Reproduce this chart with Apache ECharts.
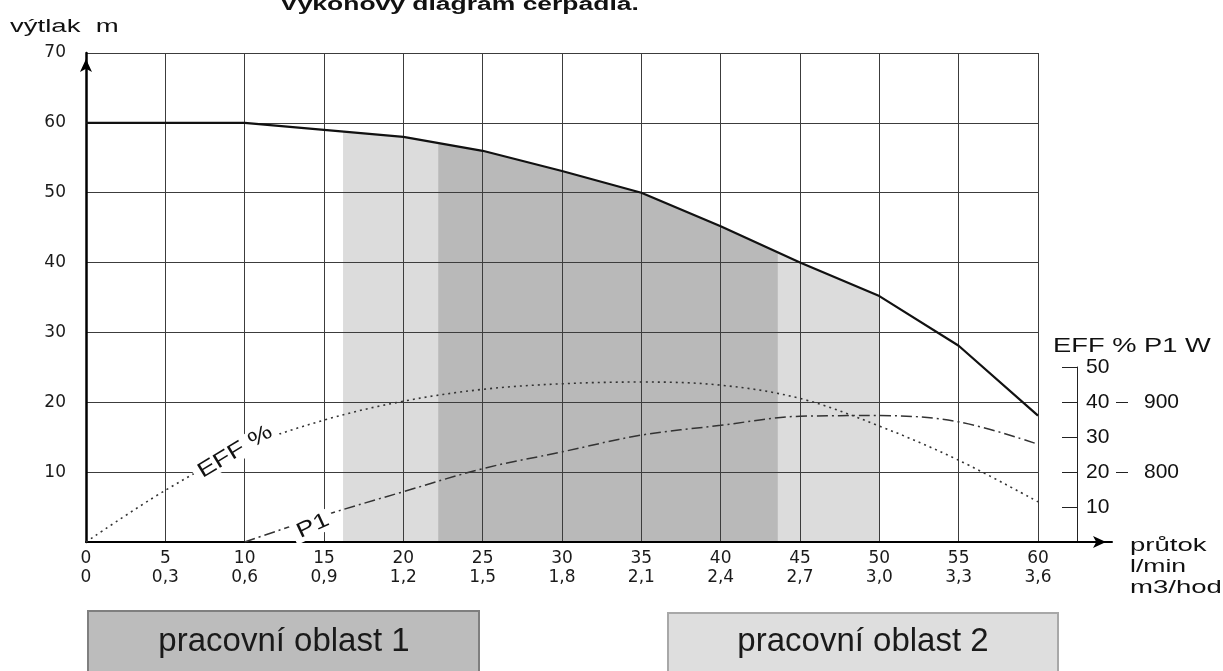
<!DOCTYPE html>
<html>
<head>
<meta charset="utf-8">
<script src="https://cdn.jsdelivr.net/npm/echarts@6/dist/echarts.min.js"></script>
<style>html,body{margin:0;padding:0;background:#fff}#c{width:1223px;height:671px}</style>
</head>
<body>
<div id="c"></div>
<script>
// ---- data ----
const flowLmin = [0, 5, 10, 15, 20, 25, 30, 35, 40, 45, 50, 55, 60];
const flowM3h = ['0', '0,3', '0,6', '0,9', '1,2', '1,5', '1,8', '2,1', '2,4', '2,7', '3,0', '3,3', '3,6'];
const headM = [60, 60, 60, 59, 58, 56, 53.1, 50, 45.2, 40, 35.2, 28.1, 18.1];
const effPct = [0, 14.8, 27, 34.9, 40.3, 43.7, 45.3, 45.8, 44.9, 41.1, 33.2, 23.4, 11.5];
const p1Flow = [10, 15, 20, 25, 30, 35, 40, 45, 50, 55, 60];
const p1W = [700, 738, 772, 805, 829, 853, 867, 880, 881, 872, 840];
const zone1Flow = [22.2, 25, 30, 35, 40, 43.6];
const zone1Head = [57.1, 56, 53.1, 50, 45.2, 41.5];
const zone2Flow = [16.2, 20, 25, 30, 35, 40, 45, 50];
const zone2Head = [58.8, 58, 56, 53.1, 50, 45.2, 40, 35.2];
const headTicks = [10, 20, 30, 40, 50, 60, 70];
const effTicks = [10, 20, 30, 40, 50];
const p1Ticks = [800, 900];
const zoneNames = ['pracovní oblast 1', 'pracovní oblast 2'];

const pair = (xs, ys) => xs.map((x, i) => [x, ys[i]]);

const chart = echarts.init(document.getElementById('c'), null, {renderer: 'canvas'});
const lineCol = '#3c3c3c';
const axisFont = 'DejaVu Sans';

chart.setOption({
  animation: false,
  backgroundColor: '#fff',
  grid: [
    {left: 86, right: 185, top: 53, bottom: 129},
    {left: 86, right: 111, top: 53, bottom: 129},
    {left: 900, right: 146, top: 367, bottom: 129}
  ],
  xAxis: [
    {
      gridIndex: 0, type: 'value', min: 0, max: 60, interval: 5, z: 3,
      axisLine: {show: false}, axisTick: {show: false},
      splitLine: {show: true, lineStyle: {color: lineCol, width: 1}},
      axisLabel: {
        margin: 7, color: '#1a1a1a', fontFamily: axisFont, fontSize: 17, lineHeight: 19,
        formatter: v => { const i = flowLmin.indexOf(v); return i < 0 ? '' : flowLmin[i] + '\n' + flowM3h[i]; }
      }
    },
    {
      gridIndex: 1, type: 'value', min: 0, max: 1, z: 4,
      axisLine: {show: true, onZero: false, symbol: ['none', 'arrow'], symbolSize: [9, 13], symbolOffset: [0, -6],
        lineStyle: {color: '#000', width: 2}},
      axisTick: {show: false}, axisLabel: {show: false}, splitLine: {show: false}
    },
    {gridIndex: 2, type: 'value', min: 0, max: 1, show: false}
  ],
  yAxis: [
    {
      gridIndex: 0, type: 'value', min: 0, max: 70, interval: 10, z: 3,
      axisLine: {show: true, onZero: false, symbol: ['none', 'arrow'], symbolSize: [9, 13], symbolOffset: [0, -6],
        lineStyle: {color: '#000', width: 2.5}},
      axisTick: {show: false},
      splitLine: {show: true, lineStyle: {color: lineCol, width: 1}},
      axisLabel: {margin: 20, color: '#1a1a1a', fontFamily: axisFont, fontSize: 17,
        customValues: headTicks}
    },
    {gridIndex: 0, type: 'value', min: 0, max: 140, show: false},
    {gridIndex: 0, type: 'value', min: 700, max: 1400, show: false},
    {gridIndex: 1, type: 'value', min: 0, max: 1, show: false},
    {
      gridIndex: 2, type: 'value', position: 'right', min: 0, max: 50, interval: 10,
      axisLine: {show: true, onZero: false, lineStyle: {color: '#222', width: 1}},
      axisTick: {show: true, inside: true, length: 15, lineStyle: {color: '#222', width: 1}, customValues: effTicks},
      axisLabel: {margin: 9, color: '#111', fontFamily: 'Liberation Sans', fontSize: 21, customValues: effTicks},
      splitLine: {show: false}
    },
    {
      gridIndex: 2, type: 'value', position: 'right', offset: 51, min: 700, max: 950,
      axisLine: {show: false, onZero: false},
      axisTick: {show: true, inside: true, length: 12, lineStyle: {color: '#222', width: 1}, customValues: p1Ticks},
      axisLabel: {margin: 16, color: '#111', fontFamily: 'Liberation Sans', fontSize: 21, customValues: p1Ticks},
      splitLine: {show: false}
    }
  ],
  series: [
    {
      name: zoneNames[1], type: 'line', xAxisIndex: 0, yAxisIndex: 0, z: 1,
      data: pair(zone2Flow, zone2Head), showSymbol: false, silent: true,
      lineStyle: {width: 0}, areaStyle: {color: '#dcdcdc', opacity: 1}
    },
    {
      name: zoneNames[0], type: 'line', xAxisIndex: 0, yAxisIndex: 0, z: 1.5,
      data: pair(zone1Flow, zone1Head), showSymbol: false, silent: true,
      lineStyle: {width: 0}, areaStyle: {color: '#b9b9b9', opacity: 1}
    },
    {
      name: 'výtlak', type: 'line', xAxisIndex: 0, yAxisIndex: 0, z: 6,
      data: pair(flowLmin, headM), showSymbol: false,
      lineStyle: {color: '#111', width: 2.2}
    },
    {
      name: 'EFF %', type: 'line', xAxisIndex: 0, yAxisIndex: 1, z: 6,
      data: pair(flowLmin, effPct), showSymbol: false, smooth: 0.35,
      lineStyle: {color: '#333', width: 1.6, type: [2, 4]}
    },
    {
      name: 'P1', type: 'line', xAxisIndex: 0, yAxisIndex: 2, z: 6,
      data: pair(p1Flow, p1W), showSymbol: false, smooth: 0.35,
      lineStyle: {color: '#333', width: 1.5, type: [11, 4, 2, 4]}
    }
  ]
});

// free-standing texts (horizontally stretched like the reference); y = vertical middle
const txt = (text, x, y, size, sx, weight) => ({
  type: 'text', x: x, y: y, scaleX: sx, z: 100,
  style: {text: text, fill: '#111', font: (weight || '') + ' ' + size + 'px "Liberation Sans"',
    textAlign: 'left', textVerticalAlign: 'middle'}
});

const effAt = chart.convertToPixel({gridIndex: 0}, [9.4, 12.9]);
const p1At = chart.convertToPixel({gridIndex: 0}, [14.3, 2.3]);

const graphics = [
  txt('Výkonový diagram čerpadla.', 280, 5, 18, 1.47, 'bold'),
  txt('výtlak  m', 10, 27, 18, 1.53),
  txt('EFF % P1 W', 1053, 346, 21, 1.3),
  txt('průtok', 1130, 546, 19, 1.45),
  txt('l/min', 1130, 567, 19, 1.4),
  txt('m3/hod', 1130, 588, 19, 1.45),
  {
    type: 'text', x: effAt[0], y: effAt[1], rotation: 31 * Math.PI / 180, scaleX: 1.3, z: 100,
    style: {text: 'EFF %', fill: '#111', font: '21px "Liberation Sans"', textAlign: 'center', textVerticalAlign: 'middle',
      backgroundColor: '#fff', padding: [0, 4]}
  },
  {
    type: 'text', x: p1At[0], y: p1At[1], rotation: 25 * Math.PI / 180, scaleX: 1.3, z: 100,
    style: {text: 'P1', fill: '#111', font: '21px "Liberation Sans"', textAlign: 'center', textVerticalAlign: 'middle',
      backgroundColor: '#fff', padding: [0, 4]}
  },
  {type: 'rect', z: 100, shape: {x: 88, y: 611, width: 391, height: 80},
    style: {fill: '#bcbcbc', stroke: '#7f7f7f', lineWidth: 2}},
  {type: 'rect', z: 100, shape: {x: 668, y: 613, width: 390, height: 80},
    style: {fill: '#dedede', stroke: '#a8a8a8', lineWidth: 2}},
  {type: 'text', z: 101, x: 284, y: 642, style: {text: zoneNames[0], fill: '#1a1a1a', font: '33px "Liberation Sans"', textAlign: 'center', textVerticalAlign: 'middle'}},
  {type: 'text', z: 101, x: 863, y: 642, style: {text: zoneNames[1], fill: '#1a1a1a', font: '33px "Liberation Sans"', textAlign: 'center', textVerticalAlign: 'middle'}}
];
chart.setOption({graphic: graphics});
</script>
</body>
</html>
